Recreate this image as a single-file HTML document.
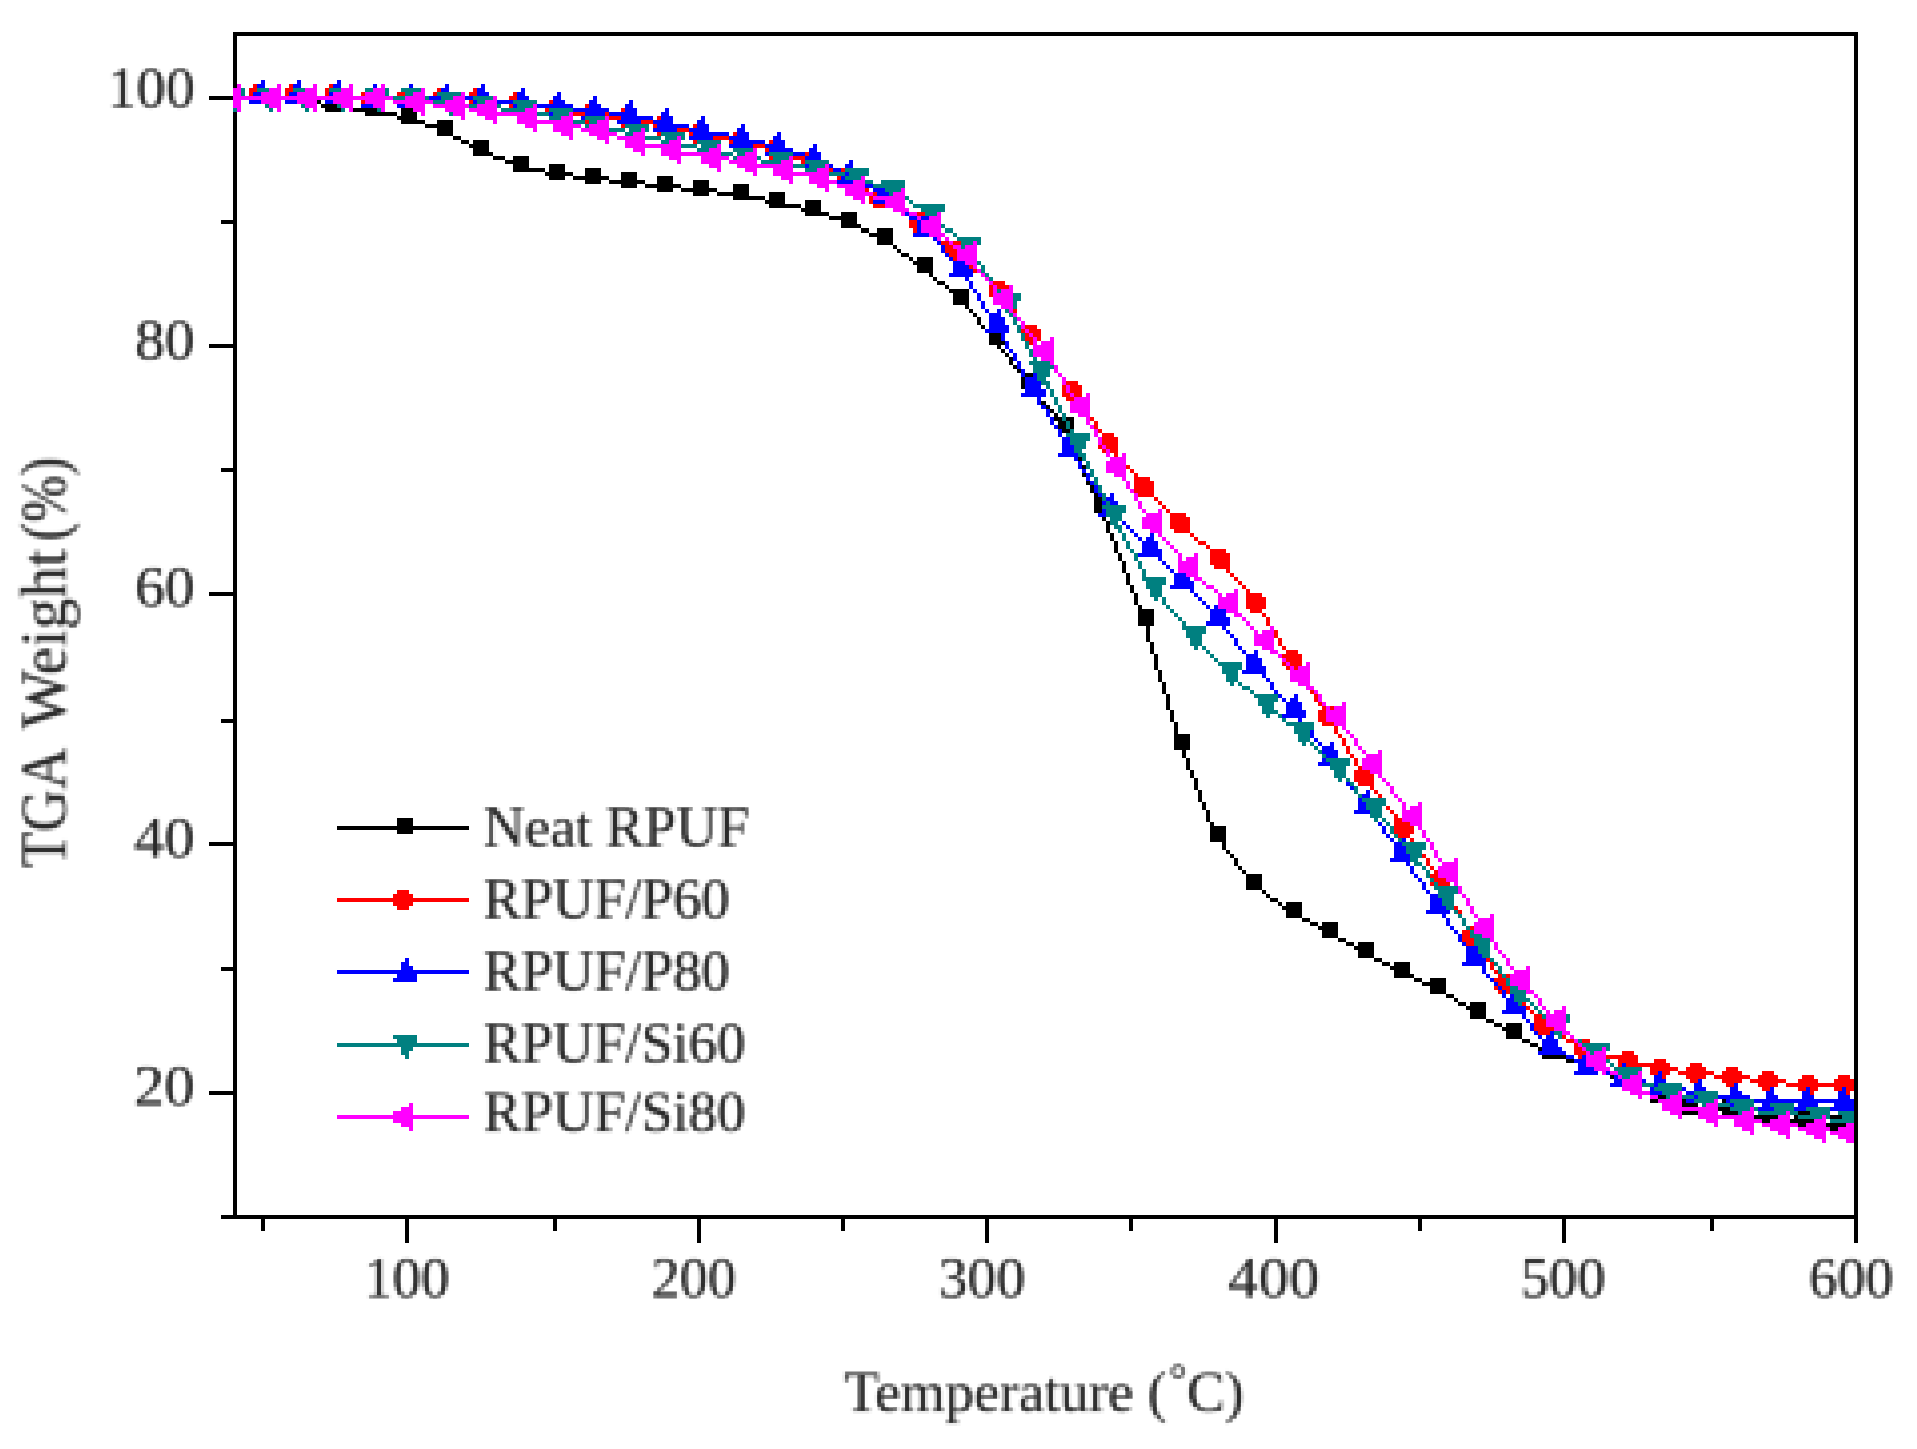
<!DOCTYPE html>
<html lang="en"><head><meta charset="utf-8"><title>TGA Weight vs Temperature</title>
<style>
html,body{margin:0;padding:0;background:#fff;}
body{width:1917px;height:1449px;overflow:hidden;}
svg{display:block;}
svg text{font-family:"Liberation Serif",serif;font-size:58px;fill:#000;fill-opacity:.84;}
</style></head>
<body>
<svg width="1917" height="1449" viewBox="0 0 1917 1449">
<rect width="1917" height="1449" fill="#fff"/>
<g shape-rendering="crispEdges">
<path fill="#000" d="M233 32h1625v4h-1625zM233 32h4v1187h-4zM1854 32h4v1187h-4zM221 1215h1637v4h-1637zM405 1219h4v24h-4zM697 1219h4v24h-4zM985 1219h4v24h-4zM1274 1219h4v24h-4zM1562 1219h4v24h-4zM1854 1219h4v24h-4zM261 1219h4v12h-4zM553 1219h4v12h-4zM841 1219h4v12h-4zM1129 1219h4v12h-4zM1418 1219h4v12h-4zM1710 1219h4v12h-4zM209 96h24v4h-24zM209 344h24v4h-24zM209 592h24v4h-24zM209 842h24v4h-24zM209 1091h24v4h-24zM221 220h12v4h-12zM221 468h12v4h-12zM221 719h12v4h-12zM221 967h12v4h-12z"/>
<path fill="#000000" d="M253 88h16v4h-16zM289 88h16v4h-16zM253 92h16v4h-16zM289 92h16v4h-16zM233 96h72v4h-72zM325 96h16v4h-16zM253 100h16v4h-16zM289 100h32v4h-32zM325 100h16v4h-16zM365 100h16v4h-16zM321 104h28v4h-28zM365 104h16v4h-16zM325 108h16v4h-16zM349 108h32v4h-32zM401 108h16v4h-16zM365 112h32v4h-32zM401 112h16v4h-16zM397 116h20v4h-20zM401 120h24v4h-24zM437 120h16v4h-16zM425 124h28v4h-28zM437 128h16v4h-16zM437 132h16v4h-16zM453 136h8v4h-8zM461 140h8v4h-8zM473 140h16v4h-16zM469 144h20v4h-20zM473 148h16v4h-16zM473 152h20v4h-20zM493 156h12v4h-12zM513 156h16v4h-16zM505 160h24v4h-24zM513 164h16v4h-16zM549 164h16v4h-16zM513 168h32v4h-32zM549 168h16v4h-16zM585 168h16v4h-16zM545 172h28v4h-28zM585 172h16v4h-16zM621 172h16v4h-16zM549 176h16v4h-16zM573 176h36v4h-36zM621 176h16v4h-16zM657 176h16v4h-16zM585 180h16v4h-16zM609 180h36v4h-36zM657 180h16v4h-16zM693 180h16v4h-16zM621 184h16v4h-16zM645 184h36v4h-36zM693 184h16v4h-16zM733 184h16v4h-16zM657 188h16v4h-16zM681 188h36v4h-36zM733 188h16v4h-16zM693 192h16v4h-16zM717 192h32v4h-32zM769 192h16v4h-16zM733 196h32v4h-32zM769 196h16v4h-16zM765 200h20v4h-20zM805 200h16v4h-16zM769 204h32v4h-32zM805 204h16v4h-16zM801 208h20v4h-20zM805 212h24v4h-24zM841 212h16v4h-16zM829 216h28v4h-28zM841 220h16v4h-16zM841 224h20v4h-20zM861 228h8v5h-8zM877 228h16v5h-16zM869 233h24v4h-24zM877 237h16v4h-16zM877 241h16v4h-16zM893 245h4v4h-4zM897 249h4v4h-4zM901 253h8v4h-8zM909 257h4v4h-4zM917 257h16v4h-16zM913 261h20v4h-20zM917 265h16v4h-16zM917 269h16v4h-16zM929 273h4v4h-4zM933 277h4v4h-4zM937 281h8v4h-8zM945 285h4v4h-4zM949 289h20v4h-20zM953 293h16v4h-16zM953 297h16v4h-16zM953 301h16v4h-16zM965 305h4v4h-4zM969 309h4v4h-4zM973 313h4v4h-4zM977 317h4v4h-4zM977 321h4v4h-4zM981 325h4v4h-4zM985 329h20v4h-20zM989 333h16v4h-16zM989 337h16v4h-16zM989 341h16v4h-16zM997 345h4v4h-4zM1001 349h4v4h-4zM1005 353h4v4h-4zM1009 357h4v4h-4zM1009 361h4v4h-4zM1013 365h4v4h-4zM1017 369h4v4h-4zM1021 373h16v4h-16zM1021 377h16v4h-16zM1021 381h16v4h-16zM1021 385h16v4h-16zM1033 389h4v4h-4zM1033 393h4v4h-4zM1037 397h4v4h-4zM1041 401h5v4h-5zM1046 405h4v4h-4zM1050 409h4v4h-4zM1054 413h4v4h-4zM1054 417h20v4h-20zM1058 421h16v4h-16zM1058 425h16v4h-16zM1058 429h16v4h-16zM1066 433h4v4h-4zM1066 437h4v4h-4zM1070 441h4v4h-4zM1070 445h4v4h-4zM1074 449h4v4h-4zM1074 453h4v4h-4zM1078 457h4v4h-4zM1078 461h4v4h-4zM1082 465h4v4h-4zM1082 469h4v4h-4zM1082 473h4v4h-4zM1086 477h4v4h-4zM1086 481h4v4h-4zM1090 485h4v4h-4zM1090 489h4v4h-4zM1094 493h4v4h-4zM1094 497h16v4h-16zM1094 501h16v4h-16zM1094 505h16v4h-16zM1094 509h16v4h-16zM1102 513h4v4h-4zM1102 517h4v4h-4zM1106 521h4v4h-4zM1106 525h4v4h-4zM1106 529h4v4h-4zM1110 533h4v4h-4zM1110 537h4v4h-4zM1114 541h4v4h-4zM1114 545h4v4h-4zM1114 549h4v4h-4zM1118 553h4v4h-4zM1118 557h4v4h-4zM1122 561h4v4h-4zM1122 565h4v4h-4zM1122 569h4v4h-4zM1126 573h4v4h-4zM1126 577h4v4h-4zM1126 581h4v4h-4zM1130 585h4v4h-4zM1130 589h4v4h-4zM1134 593h4v4h-4zM1134 597h4v4h-4zM1134 601h4v4h-4zM1138 605h4v4h-4zM1138 609h16v4h-16zM1138 613h16v4h-16zM1138 617h16v4h-16zM1138 621h16v5h-16zM1146 626h4v4h-4zM1146 630h4v4h-4zM1146 634h4v4h-4zM1146 638h4v4h-4zM1150 642h4v4h-4zM1150 646h4v4h-4zM1150 650h4v4h-4zM1154 654h4v4h-4zM1154 658h4v4h-4zM1154 662h4v4h-4zM1154 666h4v4h-4zM1158 670h4v4h-4zM1158 674h4v4h-4zM1158 678h4v4h-4zM1162 682h4v4h-4zM1162 686h4v4h-4zM1162 690h4v4h-4zM1166 694h4v4h-4zM1166 698h4v4h-4zM1166 702h4v4h-4zM1166 706h4v4h-4zM1170 710h4v4h-4zM1170 714h4v4h-4zM1170 718h4v4h-4zM1174 722h4v4h-4zM1174 726h4v4h-4zM1174 730h4v4h-4zM1174 734h16v4h-16zM1174 738h16v4h-16zM1174 742h16v4h-16zM1174 746h16v4h-16zM1182 750h4v4h-4zM1182 754h4v4h-4zM1186 758h4v4h-4zM1186 762h4v4h-4zM1186 766h4v4h-4zM1190 770h4v4h-4zM1190 774h4v4h-4zM1194 778h4v4h-4zM1194 782h4v4h-4zM1194 786h4v4h-4zM1198 790h4v4h-4zM1198 794h4v4h-4zM1198 798h4v4h-4zM1202 802h4v4h-4zM1202 806h4v4h-4zM1206 810h4v4h-4zM1206 814h4v4h-4zM1206 818h4v4h-4zM1210 822h4v4h-4zM1210 826h16v4h-16zM1210 830h16v4h-16zM1210 834h16v4h-16zM1210 838h16v4h-16zM1222 842h4v4h-4zM1222 846h4v4h-4zM1226 850h4v4h-4zM1230 854h4v4h-4zM1234 858h4v4h-4zM1234 862h4v4h-4zM1238 866h4v4h-4zM1242 870h4v4h-4zM1246 874h16v4h-16zM1246 878h16v4h-16zM1246 882h16v4h-16zM1246 886h16v4h-16zM1262 890h4v4h-4zM1266 894h4v4h-4zM1270 898h8v4h-8zM1278 902h4v4h-4zM1286 902h16v4h-16zM1282 906h20v4h-20zM1286 910h16v4h-16zM1286 914h16v4h-16zM1302 918h8v4h-8zM1310 922h8v4h-8zM1322 922h16v4h-16zM1318 926h20v4h-20zM1322 930h16v4h-16zM1322 934h16v4h-16zM1338 938h8v4h-8zM1346 942h8v4h-8zM1358 942h16v4h-16zM1354 946h20v4h-20zM1358 950h16v4h-16zM1358 954h16v4h-16zM1374 958h8v4h-8zM1382 962h8v4h-8zM1394 962h16v4h-16zM1390 966h20v4h-20zM1394 970h16v4h-16zM1394 974h20v4h-20zM1414 978h8v4h-8zM1430 978h16v4h-16zM1422 982h24v4h-24zM1430 986h16v4h-16zM1430 990h16v4h-16zM1446 994h8v4h-8zM1454 998h4v4h-4zM1458 1002h8v4h-8zM1470 1002h16v4h-16zM1466 1006h20v4h-20zM1470 1010h16v4h-16zM1470 1014h16v5h-16zM1486 1019h8v4h-8zM1494 1023h8v4h-8zM1506 1023h16v4h-16zM1502 1027h20v4h-20zM1506 1031h16v4h-16zM1506 1035h16v4h-16zM1522 1039h8v4h-8zM1530 1043h8v4h-8zM1542 1043h16v4h-16zM1538 1047h20v4h-20zM1542 1051h16v4h-16zM1542 1055h24v4h-24zM1582 1055h16v4h-16zM1566 1059h32v4h-32zM1582 1063h16v4h-16zM1582 1067h20v4h-20zM1602 1071h8v4h-8zM1618 1071h16v4h-16zM1610 1075h24v4h-24zM1618 1079h16v4h-16zM1618 1083h16v4h-16zM1634 1087h8v4h-8zM1650 1087h16v4h-16zM1642 1091h24v4h-24zM1650 1095h16v4h-16zM1650 1099h20v4h-20zM1682 1099h16v4h-16zM1722 1099h16v4h-16zM1670 1103h28v4h-28zM1722 1103h16v4h-16zM1682 1107h56v4h-56zM1758 1107h16v4h-16zM1682 1111h16v4h-16zM1722 1111h32v4h-32zM1758 1111h16v4h-16zM1794 1111h16v4h-16zM1754 1115h28v4h-28zM1794 1115h16v4h-16zM1830 1115h16v4h-16zM1758 1119h16v4h-16zM1782 1119h36v4h-36zM1830 1119h16v4h-16zM1794 1123h16v4h-16zM1818 1123h28v4h-28zM1830 1127h16v4h-16zM1846 1131h8v4h-8z"/>
<path fill="#ff0000" d="M253 84h12v4h-12zM289 84h12v4h-12zM329 84h12v4h-12zM249 88h20v4h-20zM285 88h20v4h-20zM325 88h20v4h-20zM365 88h12v4h-12zM401 88h12v4h-12zM437 88h12v4h-12zM473 88h12v4h-12zM249 92h20v4h-20zM285 92h20v4h-20zM325 92h20v4h-20zM361 92h20v4h-20zM397 92h20v4h-20zM433 92h20v4h-20zM469 92h20v4h-20zM513 92h12v4h-12zM233 96h264v4h-264zM509 96h20v4h-20zM253 100h12v4h-12zM289 100h12v4h-12zM329 100h12v4h-12zM361 100h20v4h-20zM397 100h20v4h-20zM433 100h20v4h-20zM469 100h20v4h-20zM497 100h32v4h-32zM549 100h12v4h-12zM365 104h12v4h-12zM401 104h12v4h-12zM437 104h12v4h-12zM473 104h12v4h-12zM509 104h56v4h-56zM585 104h12v4h-12zM513 108h12v4h-12zM545 108h28v4h-28zM581 108h20v4h-20zM621 108h12v4h-12zM545 112h20v4h-20zM573 112h36v4h-36zM617 112h20v4h-20zM549 116h12v4h-12zM581 116h20v4h-20zM609 116h28v4h-28zM657 116h12v4h-12zM585 120h12v4h-12zM617 120h56v4h-56zM621 124h12v4h-12zM653 124h20v4h-20zM693 124h12v4h-12zM653 128h56v4h-56zM657 132h12v4h-12zM689 132h20v4h-20zM733 132h12v4h-12zM689 136h60v4h-60zM693 140h12v4h-12zM729 140h20v4h-20zM769 140h12v4h-12zM729 144h56v4h-56zM733 148h12v4h-12zM765 148h20v4h-20zM765 152h28v4h-28zM805 152h12v4h-12zM769 156h12v4h-12zM793 156h28v4h-28zM801 160h20v4h-20zM801 164h24v4h-24zM805 168h12v4h-12zM825 168h8v4h-8zM841 168h12v4h-12zM833 172h24v4h-24zM837 176h20v4h-20zM837 180h20v4h-20zM841 184h12v4h-12zM857 184h4v4h-4zM861 188h8v4h-8zM873 188h12v4h-12zM869 192h20v4h-20zM869 196h20v4h-20zM869 200h20v4h-20zM873 204h12v4h-12zM889 204h8v4h-8zM897 208h4v4h-4zM901 212h8v4h-8zM913 212h12v4h-12zM909 216h20v4h-20zM909 220h20v4h-20zM909 224h20v4h-20zM913 228h20v5h-20zM933 233h4v4h-4zM937 237h4v4h-4zM941 241h20v4h-20zM945 245h20v4h-20zM945 249h20v4h-20zM945 253h20v4h-20zM949 257h16v4h-16zM965 261h4v4h-4zM969 265h4v4h-4zM973 269h8v4h-8zM981 273h4v4h-4zM985 277h4v4h-4zM989 281h16v4h-16zM989 285h20v4h-20zM989 289h20v4h-20zM989 293h20v4h-20zM993 297h12v4h-12zM1005 301h4v4h-4zM1009 305h4v4h-4zM1013 309h4v4h-4zM1013 313h4v4h-4zM1017 317h4v4h-4zM1021 321h4v4h-4zM1025 325h12v4h-12zM1021 329h20v4h-20zM1021 333h20v4h-20zM1021 337h20v4h-20zM1025 341h12v4h-12zM1037 345h4v4h-4zM1041 349h5v4h-5zM1046 353h4v4h-4zM1046 357h4v4h-4zM1050 361h4v4h-4zM1054 365h4v4h-4zM1054 369h4v4h-4zM1058 373h4v4h-4zM1062 377h4v4h-4zM1066 381h12v4h-12zM1062 385h20v4h-20zM1062 389h20v4h-20zM1062 393h20v4h-20zM1066 397h12v4h-12zM1078 401h4v4h-4zM1082 405h4v4h-4zM1082 409h4v4h-4zM1086 413h4v4h-4zM1090 417h4v4h-4zM1094 421h4v4h-4zM1094 425h4v4h-4zM1098 429h4v4h-4zM1102 433h12v4h-12zM1098 437h20v4h-20zM1098 441h20v4h-20zM1098 445h20v4h-20zM1102 449h16v4h-16zM1114 453h4v4h-4zM1118 457h4v4h-4zM1122 461h4v4h-4zM1126 465h4v4h-4zM1130 469h4v4h-4zM1134 473h4v4h-4zM1134 477h16v4h-16zM1134 481h20v4h-20zM1134 485h20v4h-20zM1134 489h20v4h-20zM1138 493h16v4h-16zM1154 497h4v4h-4zM1158 501h4v4h-4zM1162 505h4v4h-4zM1166 509h4v4h-4zM1170 513h16v4h-16zM1170 517h20v4h-20zM1170 521h20v4h-20zM1170 525h20v4h-20zM1174 529h16v4h-16zM1190 533h4v4h-4zM1194 537h4v4h-4zM1198 541h8v4h-8zM1206 545h4v4h-4zM1210 549h16v4h-16zM1210 553h20v4h-20zM1210 557h20v4h-20zM1210 561h20v4h-20zM1214 565h16v4h-16zM1226 569h4v4h-4zM1230 573h4v4h-4zM1234 577h4v4h-4zM1238 581h4v4h-4zM1242 585h4v4h-4zM1246 589h4v4h-4zM1246 593h16v4h-16zM1246 597h20v4h-20zM1246 601h20v4h-20zM1246 605h20v4h-20zM1250 609h12v4h-12zM1262 613h4v4h-4zM1266 617h4v4h-4zM1266 621h4v5h-4zM1270 626h4v4h-4zM1274 630h4v4h-4zM1274 634h4v4h-4zM1278 638h4v4h-4zM1278 642h4v4h-4zM1282 646h4v4h-4zM1286 650h12v4h-12zM1282 654h20v4h-20zM1282 658h20v4h-20zM1282 662h20v4h-20zM1286 666h12v4h-12zM1298 670h4v4h-4zM1302 674h4v4h-4zM1302 678h4v4h-4zM1306 682h4v4h-4zM1310 686h4v4h-4zM1310 690h4v4h-4zM1314 694h4v4h-4zM1314 698h4v4h-4zM1318 702h4v4h-4zM1322 706h12v4h-12zM1318 710h20v4h-20zM1318 714h20v4h-20zM1318 718h20v4h-20zM1322 722h12v4h-12zM1334 726h4v4h-4zM1334 730h4v4h-4zM1338 734h4v4h-4zM1342 738h4v4h-4zM1342 742h4v4h-4zM1346 746h4v4h-4zM1346 750h4v4h-4zM1350 754h4v4h-4zM1354 758h4v4h-4zM1354 762h4v4h-4zM1358 766h12v4h-12zM1354 770h20v4h-20zM1354 774h20v4h-20zM1354 778h20v4h-20zM1358 782h16v4h-16zM1370 786h4v4h-4zM1374 790h4v4h-4zM1378 794h4v4h-4zM1382 798h4v4h-4zM1382 802h4v4h-4zM1386 806h4v4h-4zM1390 810h4v4h-4zM1394 814h4v4h-4zM1394 818h16v4h-16zM1394 822h20v4h-20zM1394 826h20v4h-20zM1394 830h20v4h-20zM1398 834h12v4h-12zM1410 838h4v4h-4zM1414 842h4v4h-4zM1414 846h4v4h-4zM1418 850h4v4h-4zM1422 854h4v4h-4zM1426 858h4v4h-4zM1426 862h4v4h-4zM1430 866h4v4h-4zM1434 870h12v4h-12zM1430 874h20v4h-20zM1430 878h20v4h-20zM1430 882h20v4h-20zM1434 886h12v4h-12zM1446 890h4v4h-4zM1446 894h4v4h-4zM1450 898h4v4h-4zM1450 902h4v4h-4zM1454 906h4v4h-4zM1458 910h4v4h-4zM1458 914h4v4h-4zM1462 918h4v4h-4zM1462 922h4v4h-4zM1466 926h12v4h-12zM1462 930h20v4h-20zM1462 934h20v4h-20zM1462 938h20v4h-20zM1466 942h12v4h-12zM1478 946h4v4h-4zM1482 950h4v4h-4zM1482 954h4v4h-4zM1486 958h4v4h-4zM1490 962h4v4h-4zM1490 966h4v4h-4zM1494 970h4v4h-4zM1498 974h12v4h-12zM1494 978h20v4h-20zM1494 982h20v4h-20zM1494 986h20v4h-20zM1498 990h16v4h-16zM1514 994h4v4h-4zM1518 998h4v4h-4zM1522 1002h4v4h-4zM1526 1006h4v4h-4zM1530 1010h4v4h-4zM1534 1014h16v5h-16zM1534 1019h20v4h-20zM1534 1023h20v4h-20zM1534 1027h20v4h-20zM1538 1031h12v4h-12zM1554 1031h8v4h-8zM1562 1035h4v4h-4zM1566 1039h8v4h-8zM1578 1039h12v4h-12zM1574 1043h20v4h-20zM1574 1047h20v4h-20zM1574 1051h32v4h-32zM1622 1051h12v4h-12zM1578 1055h12v4h-12zM1606 1055h32v4h-32zM1618 1059h20v4h-20zM1654 1059h12v4h-12zM1618 1063h52v4h-52zM1690 1063h12v4h-12zM1622 1067h12v4h-12zM1650 1067h28v4h-28zM1686 1067h20v4h-20zM1726 1067h12v4h-12zM1650 1071h20v4h-20zM1678 1071h36v4h-36zM1722 1071h20v4h-20zM1762 1071h12v4h-12zM1654 1075h12v4h-12zM1686 1075h20v4h-20zM1714 1075h36v4h-36zM1758 1075h20v4h-20zM1802 1075h12v4h-12zM1838 1075h12v4h-12zM1690 1079h12v4h-12zM1722 1079h20v4h-20zM1750 1079h36v4h-36zM1798 1079h20v4h-20zM1834 1079h20v4h-20zM1726 1083h12v4h-12zM1758 1083h20v4h-20zM1786 1083h68v4h-68zM1762 1087h12v4h-12zM1798 1087h20v4h-20zM1834 1087h20v4h-20zM1802 1091h12v4h-12zM1838 1091h12v4h-12z"/>
<path fill="#0000ff" d="M261 80h4v4h-4zM297 80h4v4h-4zM337 80h4v4h-4zM257 84h8v4h-8zM293 84h8v4h-8zM333 84h8v4h-8zM373 84h4v4h-4zM409 84h4v4h-4zM445 84h4v4h-4zM481 84h4v4h-4zM257 88h12v4h-12zM293 88h12v4h-12zM333 88h12v4h-12zM369 88h8v4h-8zM405 88h8v4h-8zM441 88h8v4h-8zM477 88h8v4h-8zM521 88h4v4h-4zM253 92h16v4h-16zM289 92h16v4h-16zM329 92h16v4h-16zM369 92h12v4h-12zM405 92h12v4h-12zM441 92h12v4h-12zM477 92h12v4h-12zM517 92h8v4h-8zM557 92h4v4h-4zM233 96h264v4h-264zM517 96h12v4h-12zM553 96h8v4h-8zM593 96h4v4h-4zM249 100h24v4h-24zM285 100h24v4h-24zM325 100h24v4h-24zM365 100h20v4h-20zM401 100h20v4h-20zM437 100h20v4h-20zM473 100h20v4h-20zM497 100h40v4h-40zM553 100h12v4h-12zM589 100h8v4h-8zM629 100h4v4h-4zM361 104h24v4h-24zM397 104h24v4h-24zM433 104h24v4h-24zM469 104h24v4h-24zM513 104h20v4h-20zM537 104h36v4h-36zM589 104h12v4h-12zM625 104h8v4h-8zM509 108h24v4h-24zM549 108h20v4h-20zM573 108h36v4h-36zM625 108h12v4h-12zM665 108h4v4h-4zM545 112h24v4h-24zM585 112h20v4h-20zM609 112h28v4h-28zM661 112h8v4h-8zM581 116h24v4h-24zM621 116h32v4h-32zM661 116h12v4h-12zM701 116h4v4h-4zM617 120h24v4h-24zM653 120h20v4h-20zM697 120h8v4h-8zM657 124h32v4h-32zM697 124h12v4h-12zM741 124h4v4h-4zM653 128h24v4h-24zM689 128h20v4h-20zM737 128h8v4h-8zM693 132h36v4h-36zM737 132h12v4h-12zM777 132h4v4h-4zM689 136h24v4h-24zM729 136h20v4h-20zM773 136h8v4h-8zM733 140h32v4h-32zM773 140h12v4h-12zM729 144h24v4h-24zM765 144h20v4h-20zM813 144h4v4h-4zM769 148h24v4h-24zM809 148h8v4h-8zM765 152h24v4h-24zM793 152h12v4h-12zM809 152h12v4h-12zM805 156h16v4h-16zM805 160h20v4h-20zM849 160h4v4h-4zM801 164h32v4h-32zM845 164h8v4h-8zM833 168h8v4h-8zM845 168h12v4h-12zM841 172h16v4h-16zM841 176h20v4h-20zM837 180h28v4h-28zM885 180h4v4h-4zM865 184h8v4h-8zM881 184h8v4h-8zM873 188h20v4h-20zM877 192h16v4h-16zM877 196h20v4h-20zM873 200h24v4h-24zM897 204h4v4h-4zM901 208h4v4h-4zM905 212h4v4h-4zM925 212h4v4h-4zM909 216h8v4h-8zM921 216h8v4h-8zM917 220h16v4h-16zM917 224h16v4h-16zM917 228h20v5h-20zM913 233h24v4h-24zM933 237h4v4h-4zM937 241h4v4h-4zM941 245h4v4h-4zM941 249h4v4h-4zM945 253h4v4h-4zM961 253h4v4h-4zM949 257h4v4h-4zM957 257h8v4h-8zM953 261h16v4h-16zM953 265h16v4h-16zM953 269h20v4h-20zM949 273h24v4h-24zM965 277h4v4h-4zM969 281h4v4h-4zM969 285h4v4h-4zM973 289h4v4h-4zM977 293h4v4h-4zM977 297h4v4h-4zM981 301h4v4h-4zM981 305h4v4h-4zM985 309h4v4h-4zM997 309h4v4h-4zM989 313h12v4h-12zM989 317h16v4h-16zM989 321h16v4h-16zM989 325h20v4h-20zM985 329h24v4h-24zM1001 333h4v4h-4zM1001 337h4v4h-4zM1005 341h4v4h-4zM1005 345h4v4h-4zM1009 349h4v4h-4zM1013 353h4v4h-4zM1013 357h4v4h-4zM1017 361h4v4h-4zM1017 365h4v4h-4zM1021 369h4v4h-4zM1021 373h4v4h-4zM1033 373h4v4h-4zM1025 377h12v4h-12zM1025 381h16v4h-16zM1025 385h16v4h-16zM1025 389h21v4h-21zM1021 393h25v4h-25zM1037 397h4v4h-4zM1037 401h4v4h-4zM1041 405h5v4h-5zM1046 409h4v4h-4zM1046 413h4v4h-4zM1050 417h4v4h-4zM1050 421h4v4h-4zM1054 425h4v4h-4zM1058 429h4v4h-4zM1058 433h4v4h-4zM1070 433h4v4h-4zM1062 437h12v4h-12zM1062 441h16v4h-16zM1062 445h16v4h-16zM1062 449h20v4h-20zM1058 453h24v4h-24zM1074 457h4v4h-4zM1078 461h4v4h-4zM1078 465h4v4h-4zM1082 469h4v4h-4zM1086 473h4v4h-4zM1086 477h4v4h-4zM1090 481h4v4h-4zM1094 485h4v4h-4zM1094 489h4v4h-4zM1098 493h4v4h-4zM1110 493h4v4h-4zM1102 497h12v4h-12zM1102 501h16v4h-16zM1102 505h16v4h-16zM1102 509h20v4h-20zM1098 513h24v4h-24zM1118 517h4v4h-4zM1122 521h4v4h-4zM1126 525h4v4h-4zM1130 529h4v4h-4zM1134 533h4v4h-4zM1150 533h4v4h-4zM1138 537h4v4h-4zM1146 537h8v4h-8zM1142 541h16v4h-16zM1142 545h16v4h-16zM1142 549h20v4h-20zM1138 553h24v4h-24zM1158 557h4v4h-4zM1162 561h4v4h-4zM1166 565h4v4h-4zM1182 565h4v4h-4zM1170 569h4v4h-4zM1178 569h8v4h-8zM1174 573h16v4h-16zM1174 577h16v4h-16zM1174 581h20v4h-20zM1170 585h24v4h-24zM1190 589h4v4h-4zM1194 593h4v4h-4zM1198 597h4v4h-4zM1202 601h4v4h-4zM1218 601h4v4h-4zM1206 605h4v4h-4zM1214 605h8v4h-8zM1210 609h16v4h-16zM1210 613h16v4h-16zM1210 617h20v4h-20zM1206 621h24v5h-24zM1222 626h4v4h-4zM1226 630h4v4h-4zM1230 634h4v4h-4zM1234 638h4v4h-4zM1234 642h4v4h-4zM1238 646h4v4h-4zM1242 650h4v4h-4zM1254 650h4v4h-4zM1246 654h12v4h-12zM1246 658h16v4h-16zM1246 662h16v4h-16zM1246 666h20v4h-20zM1242 670h24v4h-24zM1262 674h4v4h-4zM1266 678h4v4h-4zM1270 682h4v4h-4zM1270 686h4v4h-4zM1274 690h4v4h-4zM1278 694h4v4h-4zM1294 694h4v4h-4zM1282 698h4v4h-4zM1290 698h8v4h-8zM1286 702h16v4h-16zM1286 706h16v4h-16zM1286 710h20v4h-20zM1282 714h24v4h-24zM1298 718h4v4h-4zM1302 722h4v4h-4zM1306 726h4v4h-4zM1310 730h4v4h-4zM1310 734h4v4h-4zM1314 738h4v4h-4zM1318 742h4v4h-4zM1330 742h4v4h-4zM1322 746h12v4h-12zM1322 750h16v4h-16zM1322 754h16v4h-16zM1322 758h20v4h-20zM1318 762h24v4h-24zM1334 766h4v4h-4zM1338 770h4v4h-4zM1342 774h4v4h-4zM1346 778h4v4h-4zM1346 782h4v4h-4zM1350 786h4v4h-4zM1354 790h4v4h-4zM1366 790h4v4h-4zM1358 794h12v4h-12zM1358 798h16v4h-16zM1358 802h16v4h-16zM1358 806h20v4h-20zM1354 810h24v4h-24zM1370 814h4v4h-4zM1374 818h4v4h-4zM1378 822h4v4h-4zM1382 826h4v4h-4zM1382 830h4v4h-4zM1386 834h4v4h-4zM1390 838h4v4h-4zM1402 838h4v4h-4zM1394 842h12v4h-12zM1394 846h16v4h-16zM1394 850h16v4h-16zM1394 854h20v4h-20zM1390 858h24v4h-24zM1406 862h4v4h-4zM1410 866h4v4h-4zM1410 870h4v4h-4zM1414 874h4v4h-4zM1418 878h4v4h-4zM1422 882h4v4h-4zM1422 886h4v4h-4zM1426 890h4v4h-4zM1438 890h4v4h-4zM1430 894h12v4h-12zM1430 898h16v4h-16zM1430 902h16v4h-16zM1430 906h20v4h-20zM1426 910h24v4h-24zM1442 914h4v4h-4zM1446 918h4v4h-4zM1446 922h4v4h-4zM1450 926h4v4h-4zM1454 930h4v4h-4zM1458 934h4v4h-4zM1458 938h4v4h-4zM1462 942h4v4h-4zM1474 942h4v4h-4zM1466 946h12v4h-12zM1466 950h16v4h-16zM1466 954h16v4h-16zM1466 958h20v4h-20zM1462 962h24v4h-24zM1482 966h4v4h-4zM1482 970h4v4h-4zM1486 974h4v4h-4zM1490 978h4v4h-4zM1494 982h4v4h-4zM1498 986h4v4h-4zM1502 990h4v4h-4zM1514 990h4v4h-4zM1502 994h4v4h-4zM1510 994h8v4h-8zM1506 998h16v4h-16zM1506 1002h16v4h-16zM1506 1006h20v4h-20zM1502 1010h24v4h-24zM1522 1014h4v5h-4zM1526 1019h4v4h-4zM1530 1023h4v4h-4zM1530 1027h4v4h-4zM1534 1031h4v4h-4zM1550 1031h4v4h-4zM1538 1035h4v4h-4zM1546 1035h8v4h-8zM1542 1039h16v4h-16zM1542 1043h16v4h-16zM1542 1047h20v4h-20zM1538 1051h28v4h-28zM1586 1051h4v4h-4zM1566 1055h8v4h-8zM1582 1055h8v4h-8zM1574 1059h20v4h-20zM1578 1063h16v4h-16zM1622 1063h4v4h-4zM1578 1067h24v4h-24zM1618 1067h8v4h-8zM1574 1071h24v4h-24zM1602 1071h12v4h-12zM1618 1071h12v4h-12zM1658 1071h4v4h-4zM1614 1075h16v4h-16zM1654 1075h8v4h-8zM1614 1079h32v4h-32zM1654 1079h12v4h-12zM1698 1079h4v4h-4zM1610 1083h24v4h-24zM1646 1083h20v4h-20zM1694 1083h8v4h-8zM1734 1083h4v4h-4zM1650 1087h36v4h-36zM1694 1087h12v4h-12zM1730 1087h8v4h-8zM1770 1087h4v4h-4zM1806 1087h4v4h-4zM1842 1087h4v4h-4zM1646 1091h24v4h-24zM1686 1091h28v4h-28zM1730 1091h12v4h-12zM1766 1091h8v4h-8zM1802 1091h8v4h-8zM1838 1091h8v4h-8zM1690 1095h20v4h-20zM1714 1095h36v4h-36zM1766 1095h12v4h-12zM1802 1095h12v4h-12zM1838 1095h12v4h-12zM1686 1099h24v4h-24zM1726 1099h20v4h-20zM1750 1099h104v4h-104zM1722 1103h24v4h-24zM1762 1103h20v4h-20zM1798 1103h20v4h-20zM1834 1103h20v4h-20zM1758 1107h24v4h-24zM1794 1107h24v4h-24zM1830 1107h24v4h-24z"/>
<path fill="#008080" d="M233 88h12v4h-12zM257 88h24v4h-24zM293 88h24v4h-24zM329 88h24v4h-24zM365 88h24v4h-24zM401 88h24v4h-24zM233 92h12v4h-12zM261 92h20v4h-20zM297 92h20v4h-20zM333 92h20v4h-20zM369 92h20v4h-20zM405 92h20v4h-20zM437 92h24v4h-24zM233 96h196v4h-196zM441 96h20v4h-20zM473 96h24v4h-24zM233 100h8v4h-8zM265 100h12v4h-12zM301 100h12v4h-12zM337 100h12v4h-12zM373 100h12v4h-12zM409 100h12v4h-12zM429 100h36v4h-36zM477 100h20v4h-20zM513 100h24v4h-24zM233 104h4v4h-4zM265 104h8v4h-8zM301 104h8v4h-8zM337 104h8v4h-8zM373 104h8v4h-8zM409 104h8v4h-8zM445 104h12v4h-12zM465 104h36v4h-36zM517 104h20v4h-20zM233 108h4v4h-4zM269 108h4v4h-4zM305 108h4v4h-4zM341 108h4v4h-4zM377 108h4v4h-4zM413 108h4v4h-4zM445 108h8v4h-8zM481 108h12v4h-12zM501 108h32v4h-32zM549 108h24v4h-24zM449 112h4v4h-4zM481 112h8v4h-8zM521 112h28v4h-28zM553 112h20v4h-20zM485 116h4v4h-4zM521 116h8v4h-8zM549 116h20v4h-20zM585 116h24v4h-24zM525 120h4v4h-4zM557 120h28v4h-28zM589 120h20v4h-20zM557 124h8v4h-8zM585 124h20v4h-20zM625 124h24v4h-24zM561 128h4v4h-4zM593 128h32v4h-32zM629 128h20v4h-20zM593 132h8v4h-8zM625 132h20v4h-20zM661 132h24v4h-24zM597 136h4v4h-4zM633 136h28v4h-28zM665 136h20v4h-20zM633 140h8v4h-8zM661 140h20v4h-20zM697 140h24v4h-24zM637 144h4v4h-4zM669 144h28v4h-28zM701 144h20v4h-20zM669 148h8v4h-8zM697 148h20v4h-20zM733 148h24v4h-24zM673 152h4v4h-4zM705 152h28v4h-28zM737 152h20v4h-20zM769 152h24v4h-24zM705 156h8v4h-8zM733 156h28v4h-28zM773 156h20v4h-20zM709 160h4v4h-4zM741 160h12v4h-12zM761 160h28v4h-28zM805 160h24v4h-24zM741 164h8v4h-8zM777 164h28v4h-28zM809 164h20v4h-20zM745 168h4v4h-4zM777 168h8v4h-8zM805 168h20v4h-20zM845 168h24v4h-24zM781 172h4v4h-4zM813 172h32v4h-32zM849 172h20v4h-20zM813 176h8v4h-8zM845 176h20v4h-20zM817 180h4v4h-4zM853 180h20v4h-20zM881 180h24v4h-24zM853 184h8v4h-8zM873 184h32v4h-32zM857 188h4v4h-4zM885 188h16v4h-16zM889 192h12v4h-12zM889 196h8v4h-8zM901 196h8v4h-8zM893 200h4v4h-4zM909 200h4v4h-4zM913 204h32v4h-32zM921 208h24v4h-24zM925 212h16v4h-16zM929 216h12v4h-12zM929 220h12v4h-12zM933 224h4v4h-4zM941 224h4v4h-4zM945 228h8v5h-8zM953 233h4v4h-4zM957 237h24v4h-24zM961 241h20v4h-20zM961 245h16v4h-16zM965 249h12v4h-12zM965 253h8v4h-8zM969 257h8v4h-8zM977 261h4v4h-4zM981 265h4v4h-4zM981 269h4v4h-4zM985 273h4v4h-4zM989 277h4v4h-4zM989 281h4v4h-4zM993 285h4v4h-4zM997 289h4v4h-4zM997 293h24v4h-24zM1001 297h20v4h-20zM1001 301h16v4h-16zM1005 305h12v4h-12zM1005 309h8v4h-8zM1009 313h4v4h-4zM1013 317h4v4h-4zM1013 321h4v4h-4zM1017 325h4v4h-4zM1017 329h4v4h-4zM1021 333h4v4h-4zM1021 337h4v4h-4zM1025 341h4v4h-4zM1025 345h4v4h-4zM1029 349h4v4h-4zM1029 353h4v4h-4zM1033 357h4v4h-4zM1029 361h25v4h-25zM1033 365h21v4h-21zM1033 369h17v4h-17zM1037 373h13v4h-13zM1037 377h9v4h-9zM1041 381h9v4h-9zM1046 385h4v4h-4zM1050 389h4v4h-4zM1050 393h4v4h-4zM1054 397h4v4h-4zM1054 401h4v4h-4zM1058 405h4v4h-4zM1058 409h4v4h-4zM1062 413h4v4h-4zM1062 417h4v4h-4zM1066 421h4v4h-4zM1066 425h4v4h-4zM1070 429h4v4h-4zM1066 433h24v4h-24zM1070 437h20v4h-20zM1070 441h16v4h-16zM1074 445h12v4h-12zM1074 449h8v4h-8zM1078 453h8v4h-8zM1082 457h4v4h-4zM1086 461h4v4h-4zM1086 465h4v4h-4zM1090 469h4v4h-4zM1090 473h4v4h-4zM1094 477h4v4h-4zM1094 481h4v4h-4zM1098 485h4v4h-4zM1098 489h4v4h-4zM1102 493h4v4h-4zM1102 497h4v4h-4zM1106 501h4v4h-4zM1102 505h24v4h-24zM1106 509h20v4h-20zM1106 513h16v4h-16zM1110 517h12v4h-12zM1110 521h8v4h-8zM1114 525h8v4h-8zM1118 529h4v4h-4zM1122 533h4v4h-4zM1122 537h4v4h-4zM1126 541h4v4h-4zM1126 545h4v4h-4zM1130 549h4v4h-4zM1134 553h4v4h-4zM1134 557h4v4h-4zM1138 561h4v4h-4zM1138 565h4v4h-4zM1142 569h4v4h-4zM1142 573h4v4h-4zM1142 577h24v4h-24zM1146 581h20v4h-20zM1146 585h16v4h-16zM1150 589h12v4h-12zM1150 593h12v4h-12zM1154 597h4v4h-4zM1162 597h4v4h-4zM1162 601h4v4h-4zM1166 605h4v4h-4zM1170 609h4v4h-4zM1174 613h4v4h-4zM1178 617h4v4h-4zM1182 621h4v5h-4zM1182 626h24v4h-24zM1186 630h20v4h-20zM1186 634h16v4h-16zM1190 638h12v4h-12zM1190 642h12v4h-12zM1194 646h4v4h-4zM1202 646h4v4h-4zM1206 650h4v4h-4zM1210 654h4v4h-4zM1214 658h4v4h-4zM1218 662h24v4h-24zM1222 666h20v4h-20zM1222 670h16v4h-16zM1226 674h12v4h-12zM1226 678h12v4h-12zM1230 682h4v4h-4zM1238 682h4v4h-4zM1242 686h8v4h-8zM1250 690h4v4h-4zM1254 694h24v4h-24zM1258 698h20v4h-20zM1258 702h16v4h-16zM1262 706h12v4h-12zM1262 710h16v4h-16zM1266 714h4v4h-4zM1278 714h4v4h-4zM1282 718h4v4h-4zM1286 722h28v4h-28zM1294 726h20v4h-20zM1294 730h16v4h-16zM1298 734h12v4h-12zM1298 738h12v4h-12zM1302 742h4v4h-4zM1310 742h4v4h-4zM1314 746h4v4h-4zM1318 750h4v4h-4zM1322 754h4v4h-4zM1326 758h24v4h-24zM1330 762h20v4h-20zM1330 766h16v4h-16zM1334 770h12v4h-12zM1334 774h12v4h-12zM1338 778h4v4h-4zM1346 778h4v4h-4zM1350 782h4v4h-4zM1354 786h4v4h-4zM1354 790h4v4h-4zM1358 794h4v4h-4zM1362 798h24v4h-24zM1366 802h20v4h-20zM1366 806h16v4h-16zM1370 810h12v4h-12zM1370 814h12v4h-12zM1374 818h4v4h-4zM1382 818h4v4h-4zM1386 822h4v4h-4zM1390 826h4v4h-4zM1390 830h4v4h-4zM1394 834h4v4h-4zM1398 838h4v4h-4zM1402 842h24v4h-24zM1406 846h20v4h-20zM1406 850h16v4h-16zM1410 854h12v4h-12zM1410 858h8v4h-8zM1414 862h8v4h-8zM1422 866h4v4h-4zM1426 870h4v4h-4zM1426 874h4v4h-4zM1430 878h4v4h-4zM1434 882h4v4h-4zM1434 886h24v4h-24zM1438 890h20v4h-20zM1438 894h16v4h-16zM1442 898h12v4h-12zM1442 902h12v4h-12zM1446 906h8v4h-8zM1454 910h4v4h-4zM1458 914h4v4h-4zM1462 918h4v4h-4zM1462 922h4v4h-4zM1466 926h4v4h-4zM1470 930h4v4h-4zM1470 934h24v4h-24zM1474 938h20v4h-20zM1474 942h16v4h-16zM1478 946h12v4h-12zM1478 950h12v4h-12zM1482 954h8v4h-8zM1490 958h4v4h-4zM1494 962h4v4h-4zM1498 966h4v4h-4zM1498 970h4v4h-4zM1502 974h4v4h-4zM1506 978h4v4h-4zM1506 982h24v4h-24zM1510 986h20v4h-20zM1510 990h16v4h-16zM1514 994h12v4h-12zM1514 998h16v4h-16zM1518 1002h4v4h-4zM1530 1002h4v4h-4zM1534 1006h4v4h-4zM1538 1010h4v4h-4zM1542 1014h28v5h-28zM1550 1019h20v4h-20zM1550 1023h16v4h-16zM1554 1027h12v4h-12zM1554 1031h8v4h-8zM1566 1031h4v4h-4zM1558 1035h4v4h-4zM1570 1035h4v4h-4zM1574 1039h8v4h-8zM1582 1043h28v4h-28zM1586 1047h24v4h-24zM1590 1051h16v4h-16zM1594 1055h12v4h-12zM1594 1059h16v4h-16zM1598 1063h4v4h-4zM1610 1063h4v4h-4zM1614 1067h28v4h-28zM1618 1071h24v4h-24zM1622 1075h16v4h-16zM1626 1079h16v4h-16zM1626 1083h8v4h-8zM1642 1083h12v4h-12zM1658 1083h24v4h-24zM1630 1087h4v4h-4zM1654 1087h28v4h-28zM1662 1091h16v4h-16zM1694 1091h24v4h-24zM1666 1095h28v4h-28zM1698 1095h20v4h-20zM1666 1099h8v4h-8zM1694 1099h20v4h-20zM1730 1099h24v4h-24zM1670 1103h4v4h-4zM1702 1103h28v4h-28zM1734 1103h20v4h-20zM1770 1103h24v4h-24zM1702 1107h8v4h-8zM1730 1107h28v4h-28zM1774 1107h20v4h-20zM1806 1107h24v4h-24zM1706 1111h4v4h-4zM1738 1111h12v4h-12zM1758 1111h40v4h-40zM1810 1111h20v4h-20zM1838 1111h16v4h-16zM1738 1115h8v4h-8zM1778 1115h12v4h-12zM1798 1115h32v4h-32zM1842 1115h12v4h-12zM1742 1119h4v4h-4zM1778 1119h8v4h-8zM1814 1119h12v4h-12zM1830 1119h24v4h-24zM1782 1123h4v4h-4zM1814 1123h8v4h-8zM1846 1123h8v4h-8zM1818 1127h4v4h-4zM1846 1127h8v4h-8zM1850 1131h4v4h-4z"/>
<path fill="#ff00ff" d="M237 84h4v4h-4zM277 84h4v4h-4zM313 84h4v4h-4zM349 84h4v4h-4zM381 84h4v4h-4zM233 88h8v4h-8zM269 88h12v4h-12zM305 88h12v4h-12zM341 88h12v4h-12zM373 88h12v4h-12zM421 88h4v4h-4zM233 92h8v4h-8zM261 92h20v4h-20zM297 92h20v4h-20zM333 92h20v4h-20zM365 92h20v4h-20zM413 92h12v4h-12zM461 92h4v4h-4zM233 96h160v4h-160zM405 96h20v4h-20zM453 96h12v4h-12zM493 96h4v4h-4zM233 100h8v4h-8zM261 100h20v4h-20zM297 100h20v4h-20zM333 100h20v4h-20zM365 100h20v4h-20zM393 100h40v4h-40zM445 100h20v4h-20zM485 100h12v4h-12zM233 104h8v4h-8zM269 104h12v4h-12zM305 104h12v4h-12zM341 104h12v4h-12zM373 104h12v4h-12zM405 104h20v4h-20zM433 104h36v4h-36zM477 104h20v4h-20zM533 104h4v4h-4zM237 108h4v4h-4zM277 108h4v4h-4zM313 108h4v4h-4zM349 108h4v4h-4zM381 108h4v4h-4zM413 108h12v4h-12zM445 108h20v4h-20zM469 108h28v4h-28zM525 108h12v4h-12zM421 112h4v4h-4zM453 112h12v4h-12zM477 112h60v4h-60zM569 112h4v4h-4zM461 116h4v4h-4zM485 116h12v4h-12zM517 116h20v4h-20zM561 116h12v4h-12zM605 116h4v4h-4zM493 120h4v4h-4zM517 120h56v4h-56zM597 120h12v4h-12zM525 124h12v4h-12zM553 124h28v4h-28zM589 124h20v4h-20zM533 128h4v4h-4zM553 128h20v4h-20zM581 128h28v4h-28zM641 128h4v4h-4zM561 132h12v4h-12zM589 132h28v4h-28zM633 132h12v4h-12zM569 136h4v4h-4zM597 136h12v4h-12zM617 136h28v4h-28zM677 136h4v4h-4zM605 140h4v4h-4zM625 140h20v4h-20zM669 140h12v4h-12zM625 144h56v4h-56zM717 144h4v4h-4zM633 148h12v4h-12zM661 148h20v4h-20zM709 148h12v4h-12zM753 148h4v4h-4zM641 152h4v4h-4zM661 152h60v4h-60zM745 152h12v4h-12zM669 156h12v4h-12zM701 156h28v4h-28zM737 156h20v4h-20zM789 156h4v4h-4zM677 160h4v4h-4zM701 160h20v4h-20zM729 160h28v4h-28zM781 160h12v4h-12zM709 164h12v4h-12zM737 164h56v4h-56zM825 164h4v4h-4zM717 168h4v4h-4zM745 168h12v4h-12zM773 168h20v4h-20zM817 168h12v4h-12zM753 172h4v4h-4zM773 172h56v4h-56zM781 176h12v4h-12zM809 176h20v4h-20zM861 176h4v4h-4zM789 180h4v4h-4zM809 180h28v4h-28zM853 180h12v4h-12zM817 184h12v4h-12zM837 184h28v4h-28zM825 188h4v4h-4zM845 188h20v4h-20zM901 188h4v4h-4zM845 192h28v4h-28zM893 192h12v4h-12zM853 196h12v4h-12zM873 196h32v4h-32zM861 200h4v4h-4zM885 200h20v4h-20zM885 204h20v4h-20zM893 208h16v4h-16zM901 212h4v4h-4zM909 212h8v4h-8zM937 212h4v4h-4zM917 216h4v4h-4zM929 216h12v4h-12zM921 220h20v4h-20zM921 224h20v4h-20zM921 228h20v5h-20zM929 233h16v4h-16zM937 237h4v4h-4zM945 237h4v4h-4zM949 241h4v4h-4zM973 241h4v4h-4zM953 245h8v4h-8zM965 245h12v4h-12zM957 249h20v4h-20zM957 253h20v4h-20zM957 257h20v4h-20zM965 261h12v4h-12zM973 265h4v4h-4zM977 269h4v4h-4zM981 273h4v4h-4zM985 277h4v4h-4zM989 281h4v4h-4zM993 285h4v4h-4zM1009 285h4v4h-4zM993 289h4v4h-4zM1001 289h12v4h-12zM993 293h20v4h-20zM993 297h20v4h-20zM993 301h20v4h-20zM1001 305h12v4h-12zM1009 309h4v4h-4zM1013 313h4v4h-4zM1017 317h4v4h-4zM1021 321h4v4h-4zM1021 325h4v4h-4zM1025 329h4v4h-4zM1029 333h4v4h-4zM1033 337h4v4h-4zM1050 337h4v4h-4zM1033 341h4v4h-4zM1041 341h13v4h-13zM1033 345h21v4h-21zM1033 349h21v4h-21zM1033 353h21v4h-21zM1041 357h13v4h-13zM1050 361h4v4h-4zM1054 365h4v4h-4zM1054 369h4v4h-4zM1058 373h4v4h-4zM1062 377h4v4h-4zM1062 381h4v4h-4zM1066 385h4v4h-4zM1066 389h4v4h-4zM1070 393h4v4h-4zM1086 393h4v4h-4zM1074 397h16v4h-16zM1070 401h20v4h-20zM1070 405h20v4h-20zM1070 409h20v4h-20zM1078 413h12v4h-12zM1086 417h4v4h-4zM1086 421h4v4h-4zM1090 425h4v4h-4zM1094 429h4v4h-4zM1094 433h4v4h-4zM1098 437h4v4h-4zM1098 441h4v4h-4zM1102 445h4v4h-4zM1106 449h4v4h-4zM1106 453h4v4h-4zM1122 453h4v4h-4zM1110 457h16v4h-16zM1106 461h20v4h-20zM1106 465h20v4h-20zM1106 469h20v4h-20zM1114 473h12v4h-12zM1122 477h4v4h-4zM1126 481h4v4h-4zM1126 485h4v4h-4zM1130 489h4v4h-4zM1134 493h4v4h-4zM1134 497h4v4h-4zM1138 501h4v4h-4zM1138 505h4v4h-4zM1142 509h4v4h-4zM1158 509h4v4h-4zM1146 513h16v4h-16zM1142 517h20v4h-20zM1142 521h20v4h-20zM1142 525h20v4h-20zM1150 529h12v4h-12zM1158 533h4v4h-4zM1162 537h4v4h-4zM1166 541h4v4h-4zM1170 545h4v4h-4zM1174 549h4v4h-4zM1178 553h4v4h-4zM1194 553h4v4h-4zM1178 557h4v4h-4zM1186 557h12v4h-12zM1178 561h20v4h-20zM1178 565h20v4h-20zM1178 569h20v4h-20zM1186 573h12v4h-12zM1194 577h8v4h-8zM1202 581h4v4h-4zM1206 585h8v4h-8zM1214 589h4v4h-4zM1234 589h4v4h-4zM1218 593h4v4h-4zM1226 593h12v4h-12zM1218 597h20v4h-20zM1218 601h20v4h-20zM1218 605h20v4h-20zM1226 609h12v4h-12zM1234 613h8v4h-8zM1242 617h4v4h-4zM1246 621h4v5h-4zM1250 626h4v4h-4zM1270 626h4v4h-4zM1254 630h4v4h-4zM1262 630h12v4h-12zM1254 634h20v4h-20zM1254 638h20v4h-20zM1254 642h20v4h-20zM1262 646h12v4h-12zM1270 650h8v4h-8zM1278 654h4v4h-4zM1282 658h4v4h-4zM1286 662h4v4h-4zM1306 662h4v4h-4zM1290 666h4v4h-4zM1298 666h12v4h-12zM1290 670h20v4h-20zM1290 674h20v4h-20zM1290 678h20v4h-20zM1298 682h12v4h-12zM1306 686h8v4h-8zM1314 690h4v4h-4zM1318 694h4v4h-4zM1318 698h4v4h-4zM1322 702h4v4h-4zM1342 702h4v4h-4zM1326 706h4v4h-4zM1334 706h12v4h-12zM1326 710h20v4h-20zM1326 714h20v4h-20zM1326 718h20v4h-20zM1334 722h12v4h-12zM1342 726h4v4h-4zM1346 730h4v4h-4zM1350 734h4v4h-4zM1354 738h4v4h-4zM1354 742h4v4h-4zM1358 746h4v4h-4zM1362 750h4v4h-4zM1378 750h4v4h-4zM1366 754h16v4h-16zM1362 758h20v4h-20zM1362 762h20v4h-20zM1362 766h20v4h-20zM1370 770h12v4h-12zM1378 774h4v4h-4zM1382 778h4v4h-4zM1386 782h4v4h-4zM1390 786h4v4h-4zM1390 790h4v4h-4zM1394 794h4v4h-4zM1398 798h4v4h-4zM1402 802h4v4h-4zM1418 802h4v4h-4zM1402 806h4v4h-4zM1410 806h12v4h-12zM1402 810h20v4h-20zM1402 814h20v4h-20zM1402 818h20v4h-20zM1410 822h12v4h-12zM1418 826h4v4h-4zM1422 830h4v4h-4zM1422 834h4v4h-4zM1426 838h4v4h-4zM1430 842h4v4h-4zM1430 846h4v4h-4zM1434 850h4v4h-4zM1434 854h4v4h-4zM1438 858h4v4h-4zM1454 858h4v4h-4zM1442 862h16v4h-16zM1438 866h20v4h-20zM1438 870h20v4h-20zM1438 874h20v4h-20zM1446 878h12v4h-12zM1454 882h4v4h-4zM1458 886h4v4h-4zM1458 890h4v4h-4zM1462 894h4v4h-4zM1466 898h4v4h-4zM1466 902h4v4h-4zM1470 906h4v4h-4zM1470 910h4v4h-4zM1474 914h4v4h-4zM1490 914h4v4h-4zM1478 918h16v4h-16zM1474 922h20v4h-20zM1474 926h20v4h-20zM1474 930h20v4h-20zM1482 934h12v4h-12zM1490 938h4v4h-4zM1494 942h4v4h-4zM1494 946h4v4h-4zM1498 950h4v4h-4zM1502 954h4v4h-4zM1506 958h4v4h-4zM1506 962h4v4h-4zM1510 966h4v4h-4zM1526 966h4v4h-4zM1514 970h16v4h-16zM1510 974h20v4h-20zM1510 978h20v4h-20zM1510 982h20v4h-20zM1518 986h12v4h-12zM1526 990h8v4h-8zM1534 994h4v4h-4zM1538 998h4v4h-4zM1538 1002h4v4h-4zM1542 1006h4v4h-4zM1562 1006h4v4h-4zM1546 1010h4v4h-4zM1554 1010h12v4h-12zM1546 1014h20v5h-20zM1546 1019h20v4h-20zM1546 1023h20v4h-20zM1554 1027h12v4h-12zM1562 1031h8v4h-8zM1570 1035h4v4h-4zM1574 1039h4v4h-4zM1578 1043h4v4h-4zM1582 1047h4v4h-4zM1602 1047h4v4h-4zM1586 1051h4v4h-4zM1594 1051h12v4h-12zM1586 1055h20v4h-20zM1586 1059h20v4h-20zM1586 1063h20v4h-20zM1594 1067h16v4h-16zM1602 1071h4v4h-4zM1610 1071h8v4h-8zM1638 1071h4v4h-4zM1618 1075h4v4h-4zM1630 1075h12v4h-12zM1622 1079h20v4h-20zM1622 1083h20v4h-20zM1622 1087h20v4h-20zM1630 1091h20v4h-20zM1678 1091h4v4h-4zM1638 1095h4v4h-4zM1650 1095h8v4h-8zM1670 1095h12v4h-12zM1658 1099h24v4h-24zM1714 1099h4v4h-4zM1662 1103h20v4h-20zM1706 1103h12v4h-12zM1662 1107h56v4h-56zM1750 1107h4v4h-4zM1670 1111h12v4h-12zM1698 1111h20v4h-20zM1742 1111h12v4h-12zM1786 1111h4v4h-4zM1678 1115h4v4h-4zM1698 1115h56v4h-56zM1778 1115h12v4h-12zM1822 1115h4v4h-4zM1706 1119h12v4h-12zM1734 1119h28v4h-28zM1770 1119h20v4h-20zM1814 1119h12v4h-12zM1714 1123h4v4h-4zM1734 1123h20v4h-20zM1762 1123h36v4h-36zM1806 1123h20v4h-20zM1846 1123h8v4h-8zM1742 1127h12v4h-12zM1770 1127h20v4h-20zM1798 1127h32v4h-32zM1838 1127h16v4h-16zM1750 1131h4v4h-4zM1778 1131h12v4h-12zM1806 1131h20v4h-20zM1830 1131h24v4h-24zM1786 1135h4v4h-4zM1814 1135h12v4h-12zM1838 1135h16v4h-16zM1822 1139h4v4h-4zM1846 1139h8v4h-8z"/>
<path fill="#000000" d="M397 818h16v4h-16zM397 822h16v4h-16zM337 826h132v4h-132zM397 830h16v4h-16z"/>
<path fill="#ff0000" d="M397 890h12v4h-12zM393 894h20v4h-20zM337 898h132v4h-132zM393 902h20v4h-20zM397 906h12v4h-12z"/>
<path fill="#0000ff" d="M405 958h4v4h-4zM401 962h8v4h-8zM401 966h12v4h-12zM337 970h132v4h-132zM397 974h20v4h-20zM393 978h24v4h-24z"/>
<path fill="#008080" d="M393 1035h24v4h-24zM397 1039h20v4h-20zM337 1043h132v4h-132zM401 1047h12v4h-12zM401 1051h8v4h-8zM405 1055h4v4h-4z"/>
<path fill="#ff00ff" d="M409 1103h4v4h-4zM401 1107h12v4h-12zM393 1111h20v4h-20zM337 1115h132v4h-132zM393 1119h20v4h-20zM401 1123h12v4h-12zM409 1127h4v4h-4z"/>
</g>
<defs><filter id="softA" filterUnits="userSpaceOnUse" x="1" y="0" width="1916" height="1449" color-interpolation-filters="sRGB">
<feGaussianBlur in="SourceGraphic" stdDeviation="1.25" result="b"/>
<feFlood x="2" y="1" width="2" height="2" flood-color="#000" result="dot"/>
<feComposite in="dot" in2="dot" operator="over" x="1" y="0" width="4" height="4" result="cell"/>
<feTile in="cell" result="grid"/>
<feComposite in="b" in2="grid" operator="in" result="samp"/>
<feMorphology in="samp" operator="dilate" radius="1"/>
</filter>
<filter id="softB" filterUnits="userSpaceOnUse" x="1" y="3" width="1916" height="1446" color-interpolation-filters="sRGB">
<feGaussianBlur in="SourceGraphic" stdDeviation="1.25" result="b"/>
<feFlood x="2" y="4" width="2" height="2" flood-color="#000" result="dot"/>
<feComposite in="dot" in2="dot" operator="over" x="1" y="3" width="4" height="4" result="cell"/>
<feTile in="cell" result="grid"/>
<feComposite in="b" in2="grid" operator="in" result="samp"/>
<feMorphology in="samp" operator="dilate" radius="1"/>
</filter></defs>
<g filter="url(#softA)">
<text x="107.5" y="106.8" text-anchor="start" textLength="87.2" lengthAdjust="spacingAndGlyphs">100</text>
<text x="135" y="358.8" text-anchor="start" textLength="59.7" lengthAdjust="spacingAndGlyphs">80</text>
<text x="135" y="606" text-anchor="start" textLength="59.7" lengthAdjust="spacingAndGlyphs">60</text>
<text transform="translate(65.8,867.5) rotate(-90) scale(1,1.13)"><tspan x="0" y="0" textLength="120" lengthAdjust="spacingAndGlyphs">TGA</tspan> <tspan x="138.3" y="0" textLength="180" lengthAdjust="spacingAndGlyphs">Weight</tspan> <tspan x="326.5" y="0" textLength="84" lengthAdjust="spacingAndGlyphs">(%)</tspan></text>
</g>
<g filter="url(#softB)">
<text x="364" y="1297.2" text-anchor="start" textLength="85.5" lengthAdjust="spacingAndGlyphs">100</text>
<text x="651.8" y="1297.2" text-anchor="start" textLength="84.2" lengthAdjust="spacingAndGlyphs">200</text>
<text x="938.8" y="1297.2" text-anchor="start" textLength="86.4" lengthAdjust="spacingAndGlyphs">300</text>
<text x="1228" y="1297.2" text-anchor="start" textLength="91.4" lengthAdjust="spacingAndGlyphs">400</text>
<text x="1520.7" y="1297.2" text-anchor="start" textLength="84.8" lengthAdjust="spacingAndGlyphs">500</text>
<text x="1809" y="1297.2" text-anchor="start" textLength="84.4" lengthAdjust="spacingAndGlyphs">600</text>
<text x="134" y="857.2" text-anchor="start" textLength="60.7" lengthAdjust="spacingAndGlyphs">40</text>
<text x="134" y="1105.3" text-anchor="start" textLength="60.7" lengthAdjust="spacingAndGlyphs">20</text>
<text x="483.3" y="846.3" text-anchor="start" textLength="266" lengthAdjust="spacingAndGlyphs">Neat RPUF</text>
<text x="483.3" y="918.2" text-anchor="start" textLength="246.5" lengthAdjust="spacingAndGlyphs">RPUF/P60</text>
<text x="483.3" y="990.3" text-anchor="start" textLength="246.5" lengthAdjust="spacingAndGlyphs">RPUF/P80</text>
<text x="483.3" y="1062.4" text-anchor="start" textLength="262" lengthAdjust="spacingAndGlyphs">RPUF/Si60</text>
<text x="483.3" y="1130.5" text-anchor="start" textLength="262" lengthAdjust="spacingAndGlyphs">RPUF/Si80</text>
<text><tspan x="844" y="1410.8" textLength="323" lengthAdjust="spacingAndGlyphs">Temperature (</tspan><tspan x="1169" y="1393.6" style="font-size:45px">°</tspan><tspan x="1187" y="1410.8" textLength="57" lengthAdjust="spacingAndGlyphs">C)</tspan></text>
</g>
</svg>
</body></html>
